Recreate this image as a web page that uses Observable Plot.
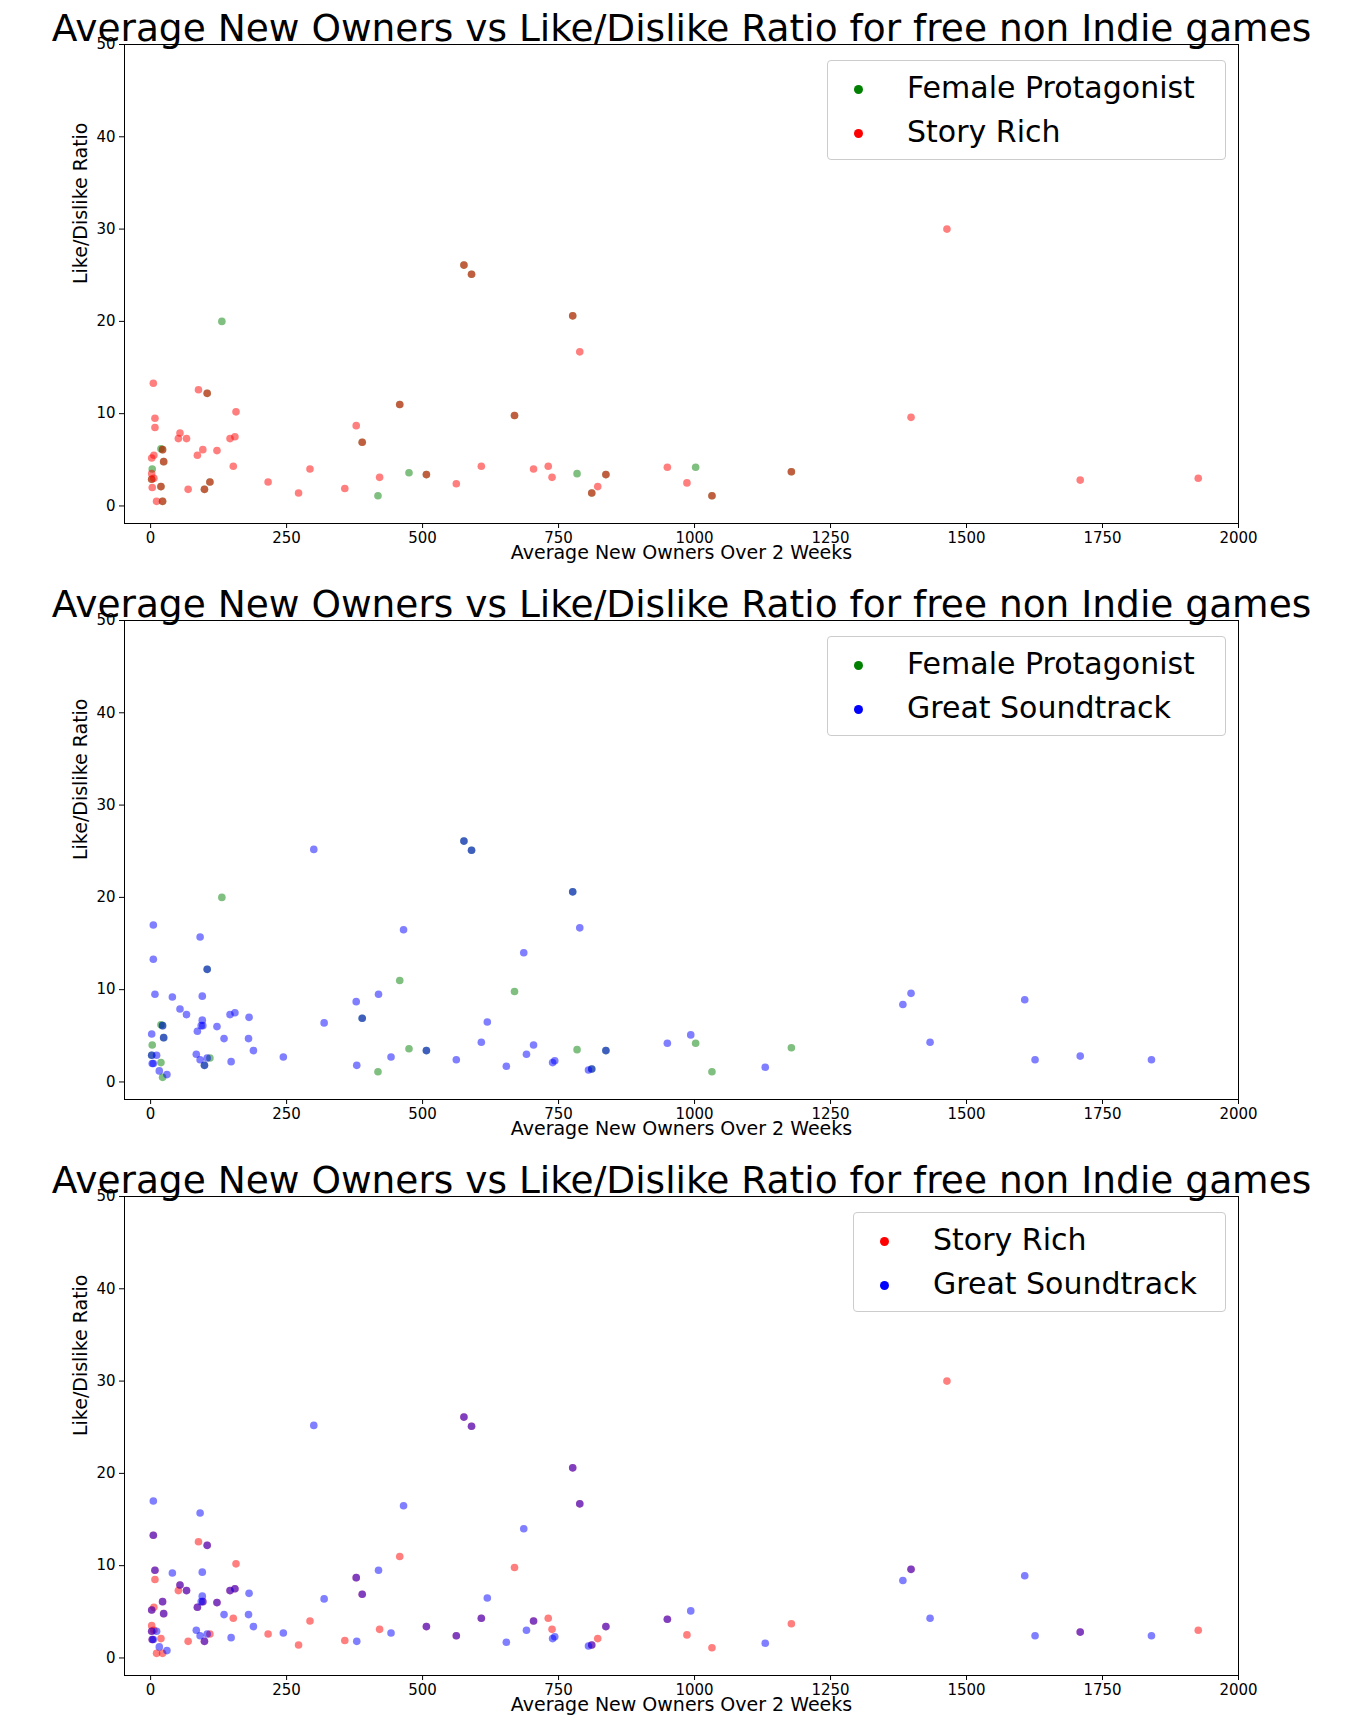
<!DOCTYPE html>
<html>
<head>
<meta charset="utf-8">
<script src="https://cdn.jsdelivr.net/npm/d3@7"></script>
<script src="https://cdn.jsdelivr.net/npm/@observablehq/plot@0.6"></script>
<style>
  body { margin: 0; background: #fff; font-family: "DejaVu Sans", sans-serif; }
  .panel { position: relative; width: 1365px; height: 576px; }
  .legend { position: absolute; border: 1px solid #ccc; border-radius: 4px; background: #fff;
            font-size: 30px; padding: 5px 10px 5px 26px; line-height: 44px; }
  .legend span.m { display: inline-block; width: 9px; height: 9px; border-radius: 50%; margin-right: 44px; vertical-align: middle; }
</style>
</head>
<body>
<div id="charts"></div>
<script>
const title = "Average New Owners vs Like/Dislike Ratio for free non Indie games";
const xTicks = [0, 250, 500, 750, 1000, 1250, 1500, 1750, 2000];
const yTicks = [0, 10, 20, 30, 40, 50];

// [avg new owners, like/dislike ratio]
const femaleProtagonist = [
  [3, 4.0], [19, 6.2], [131, 20.0], [418, 1.1], [475, 3.6], [784, 3.5], [1002, 4.2],
  [2, 2.9], [22, 6.1], [24, 4.8], [19, 2.1], [22, 0.5], [104, 12.2], [109, 2.6], [99, 1.8],
  [389, 6.9], [458, 11.0], [507, 3.4], [576, 26.1], [590, 25.1], [669, 9.8], [776, 20.6],
  [811, 1.4], [837, 3.4], [1032, 1.1], [1178, 3.7]
];

const storyRich = [
  [5, 13.3], [8, 9.5], [8, 8.5], [2, 5.2], [6, 5.5], [2, 3.5], [6, 3.0], [3, 2.0], [11, 0.5],
  [88, 12.6], [54, 7.9], [51, 7.3], [66, 7.3], [96, 6.1], [86, 5.5], [122, 6.0], [146, 7.3],
  [155, 7.5], [157, 10.2], [152, 4.3], [69, 1.8], [216, 2.6], [272, 1.4], [293, 4.0], [357, 1.9],
  [378, 8.7], [421, 3.1], [562, 2.4], [608, 4.3], [704, 4.0], [731, 4.3], [738, 3.1], [789, 16.7],
  [822, 2.1], [950, 4.2], [986, 2.5], [1398, 9.6], [1464, 30.0], [1709, 2.8], [1926, 3.0],
  [2, 2.9], [22, 6.1], [24, 4.8], [19, 2.1], [22, 0.5], [104, 12.2], [109, 2.6], [99, 1.8],
  [389, 6.9], [458, 11.0], [507, 3.4], [576, 26.1], [590, 25.1], [669, 9.8], [776, 20.6],
  [811, 1.4], [837, 3.4], [1032, 1.1], [1178, 3.7]
];

const greatSoundtrack = [
  [5, 17.0], [5, 2.0], [3, 2.0], [11, 2.9], [16, 1.2], [30, 0.8], [40, 9.2], [91, 15.7],
  [95, 9.3], [95, 6.7], [93, 6.1], [84, 3.0], [91, 2.4], [104, 2.6], [135, 4.7], [148, 2.2],
  [180, 4.7], [181, 7.0], [189, 3.4], [244, 2.7], [300, 25.2], [319, 6.4], [379, 1.8],
  [419, 9.5], [442, 2.7], [465, 16.5], [619, 6.5], [654, 1.7], [686, 14.0], [691, 3.0],
  [739, 2.1], [743, 2.3], [805, 1.3], [993, 5.1], [1130, 1.6], [1383, 8.4], [1433, 4.3],
  [1607, 8.9], [1626, 2.4], [1840, 2.4],
  [5, 13.3], [8, 9.5], [2, 5.2], [2, 2.9], [22, 6.1], [24, 4.8], [54, 7.9], [66, 7.3],
  [86, 5.5], [96, 6.1], [104, 12.2], [99, 1.8], [122, 6.0], [146, 7.3], [155, 7.5],
  [378, 8.7], [389, 6.9], [507, 3.4], [562, 2.4], [576, 26.1], [590, 25.1], [608, 4.3],
  [704, 4.0], [776, 20.6], [789, 16.7], [811, 1.4], [837, 3.4], [950, 4.2], [1398, 9.6], [1709, 2.8]
];

const panels = [
  {series: [["Female Protagonist", femaleProtagonist, "green"], ["Story Rich", storyRich, "red"]], left: 827},
  {series: [["Female Protagonist", femaleProtagonist, "green"], ["Great Soundtrack", greatSoundtrack, "blue"]], left: 827},
  {series: [["Story Rich", storyRich, "red"], ["Great Soundtrack", greatSoundtrack, "blue"]], left: 853}
];

const root = document.getElementById("charts");

panels.forEach(p => {
  const chart = Plot.plot({
    width: 1365,
    height: 576,
    marginTop: 44,
    marginBottom: 53,
    marginLeft: 124,
    marginRight: 127,
    style: {fontFamily: "DejaVu Sans, sans-serif", fontSize: "15px", color: "#000", overflow: "visible"},
    x: {domain: [-48, 2000], ticks: xTicks, tickSize: 5, tickFormat: d => String(d), label: null},
    y: {domain: [-1.9, 50], ticks: yTicks, tickSize: 5, label: null},
    marks: [
      ...p.series.map(([name, pts, color]) =>
        Plot.dot(pts, {x: d => d[0], y: d => d[1], r: 3.8, fill: color, fillOpacity: 0.5})),
      Plot.frame({stroke: "#000"}),
      Plot.text([title], {frameAnchor: "top", lineAnchor: "bottom", dy: -4, fontSize: 37.5, fill: "#000"}),
      Plot.text(["Average New Owners Over 2 Weeks"], {frameAnchor: "bottom", lineAnchor: "top", dy: 22, fontSize: 19, fill: "#000"}),
      Plot.text(["Like/Dislike Ratio"], {frameAnchor: "left", rotate: -90, dx: -44, fontSize: 19, fill: "#000"})
    ]
  });
  const wrap = document.createElement("div");
  wrap.className = "panel";
  wrap.append(chart);
  const lg = document.createElement("div");
  lg.className = "legend";
  lg.style.left = p.left + "px";
  lg.style.top = "60px";
  lg.style.width = (1224 - p.left - 36) + "px";
  lg.innerHTML = p.series.map(([name, , color]) =>
    `<div><span class="m" style="background:${color}"></span>${name}</div>`).join("");
  wrap.append(lg);
  root.append(wrap);
});
</script>
</body>
</html>
